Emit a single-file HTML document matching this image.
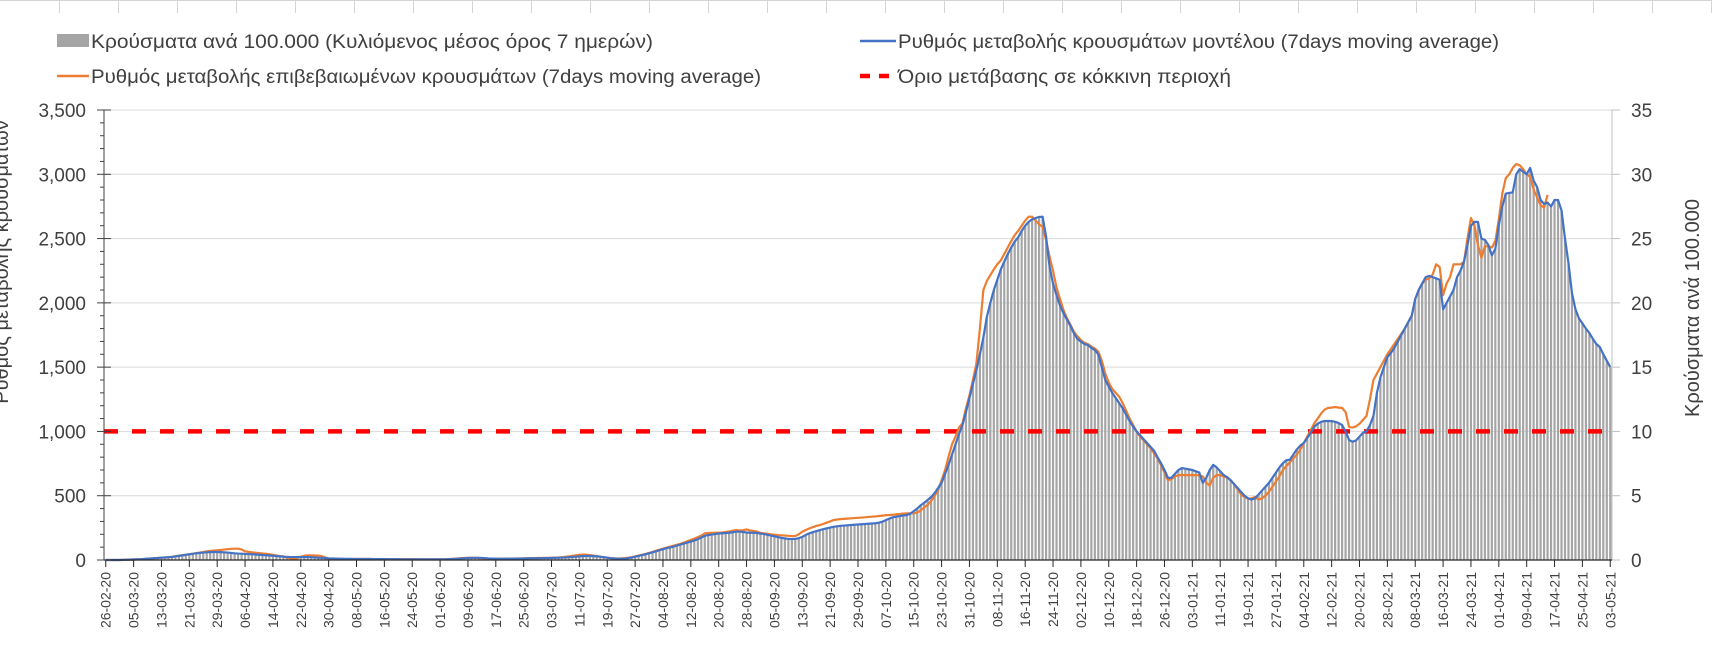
<!DOCTYPE html>
<html><head><meta charset="utf-8"><style>
html,body{margin:0;padding:0;background:#fff;}
svg{display:block;font-family:"Liberation Sans","DejaVu Sans",sans-serif;}
</style></head><body>
<svg id="chart" width="1712" height="661" viewBox="0 0 1712 661" xmlns="http://www.w3.org/2000/svg">
<g id="top-lines"></g>
<g id="legend">
  <rect x="57" y="34" width="32" height="13" fill="#a5a5a5"/>
  <text x="91" y="48" font-size="19" fill="#404040" textLength="562" lengthAdjust="spacingAndGlyphs">Κρούσματα ανά 100.000 (Κυλιόμενος μέσος όρος 7 ημερών)</text>
  <line x1="57" y1="76" x2="89" y2="76" stroke="#ed7d31" stroke-width="2.5"/>
  <text x="91" y="83" font-size="19" fill="#404040" textLength="670" lengthAdjust="spacingAndGlyphs">Ρυθμός μεταβολής επιβεβαιωμένων κρουσμάτων (7days moving average)</text>
  <line x1="860" y1="41" x2="896" y2="41" stroke="#4472c4" stroke-width="2.5"/>
  <text x="898" y="48" font-size="19" fill="#404040" textLength="601" lengthAdjust="spacingAndGlyphs">Ρυθμός μεταβολής κρουσμάτων μοντέλου (7days moving average)</text>
  <line x1="860" y1="76" x2="898" y2="76" stroke="#ff0000" stroke-width="4.5" stroke-dasharray="10 9"/>
  <text x="898" y="83" font-size="19" fill="#404040" textLength="333" lengthAdjust="spacingAndGlyphs">Όριο μετάβασης σε κόκκινη περιοχή</text>
</g>
<g id="grid"></g>
<g id="bars"></g>
<line id="thr" stroke="#ff0000" stroke-width="4.5" stroke-dasharray="14 14"/>
<path id="orangeLine" fill="none" stroke="#ed7d31" stroke-width="2.2" stroke-linejoin="round"/>
<path id="blueLine" fill="none" stroke="#4472c4" stroke-width="2.2" stroke-linejoin="round"/>
<g id="axes"></g>
<text transform="translate(8,262) rotate(-90)" text-anchor="middle" font-size="20" fill="#404040">Ρυθμός μεταβολής κρουσμάτων</text>
<text transform="translate(1699,308) rotate(-90)" text-anchor="middle" font-size="20" fill="#404040">Κρούσματα ανά 100.000</text>
</svg>
<script>
const modelRate = [
0,0,0,0,0,1,2,3,4,5,
6,8,10,12,14,16,18,20,22,24,
28,32,36,40,44,48,52,55,58,60,
61,62,62,61,60,58,55,52,50,49,
47,46,45,43,41,39,37,35,33,31,
28,26,24,23,23,23,23,23,23,22,
20,18,17,15,13,12,11,10,10,9,
9,8,8,8,8,8,8,7,7,7,
7,6,6,6,6,5,5,5,5,5,
5,5,5,5,5,5,5,5,6,7,
8,10,12,14,15,16,17,17,16,14,
12,11,10,10,10,10,10,10,11,11,
12,12,13,13,14,14,15,15,16,17,
18,19,20,22,24,26,28,30,31,31,
30,28,26,22,18,14,12,10,10,11,
14,19,26,32,38,44,52,60,68,76,
84,92,98,104,112,120,128,136,143,152,
162,175,188,194,198,202,206,208,210,212,
216,220,220,218,214,212,212,210,206,202,
196,190,184,178,172,168,164,163,164,170,
180,195,207,216,224,232,240,246,252,258,
262,266,268,270,272,274,276,278,280,282,
284,286,290,298,310,322,332,337,342,346,
350,360,380,400,425,445,467,490,520,560,
600,670,740,820,900,980,1050,1150,1260,1370,
1478,1600,1730,1892,2000,2100,2180,2260,2320,2380,
2430,2477,2510,2560,2600,2630,2650,2660,2668,2670,
2516,2282,2150,2060,1980,1920,1870,1820,1763,1720,
1700,1680,1672,1650,1633,1600,1500,1400,1350,1300,
1260,1220,1180,1130,1080,1037,1000,970,940,910,
880,850,800,753,700,638,640,670,700,715,
710,705,700,690,680,600,640,700,740,720,
690,660,645,620,590,560,530,500,480,470,
480,510,540,570,600,640,680,720,753,776,
780,820,860,890,910,950,990,1037,1060,1075,
1081,1081,1080,1075,1065,1050,1000,933,920,930,
960,990,1000,1050,1120,1300,1420,1500,1578,1610,
1650,1700,1750,1800,1850,1900,2030,2100,2150,2200,
2210,2200,2190,2180,1950,2000,2050,2100,2200,2250,
2320,2450,2600,2630,2630,2500,2490,2450,2370,2420,
2600,2750,2850,2855,2860,3000,3040,3020,3000,3050,
2950,2900,2800,2770,2780,2750,2800,2800,2720,2500,
2310,2076,1950,1880,1840,1800,1765,1720,1680,1656,
1600,1550,1500];
const confirmedRate = [
0,0,0,0,0,1,2,3,4,5,
6,8,10,12,14,16,18,20,22,25,
29,33,37,41,45,49,54,58,62,67,
70,73,75,78,81,84,87,88,88,82,
67,63,60,57,54,51,49,45,40,35,
30,28,20,12,8,15,25,33,36,36,
35,34,30,20,12,8,8,7,7,7,
8,8,8,8,8,8,8,7,7,7,
7,6,6,6,6,6,6,6,6,6,
5,5,5,5,5,5,5,5,6,8,
10,12,14,16,18,18,17,15,13,12,
11,10,10,10,10,10,11,11,12,12,
13,14,15,15,16,16,17,17,18,19,
20,22,25,28,32,36,40,42,41,38,
34,30,26,22,18,15,13,12,13,15,
18,22,28,34,40,47,55,63,72,80,
88,96,104,111,118,126,136,146,156,166,
178,190,207,210,211,212,212,214,218,222,
228,233,230,232,238,230,226,222,210,207,
204,200,197,194,192,190,188,186,187,200,
220,233,245,255,265,272,280,290,300,311,
315,318,320,322,324,326,328,330,332,335,
337,339,342,345,348,350,352,355,358,361,
363,363,363,370,385,410,428,460,500,544,
620,700,803,900,960,1030,1063,1180,1280,1400,
1530,1800,2100,2170,2216,2260,2300,2330,2380,2430,
2480,2527,2560,2600,2640,2670,2670,2640,2610,2592,
2490,2360,2250,2120,2030,1945,1880,1830,1775,1740,
1710,1690,1680,1660,1645,1620,1550,1450,1380,1330,
1300,1270,1220,1160,1100,1050,1000,960,930,900,
870,830,790,740,680,620,630,650,660,660,
660,660,660,660,658,650,600,580,640,660,
660,650,640,620,590,550,510,490,477,480,
490,470,480,500,530,570,610,650,700,730,
760,790,820,860,910,960,1010,1063,1100,1140,
1170,1183,1185,1190,1185,1183,1150,1035,1030,1040,
1060,1090,1120,1250,1400,1450,1500,1550,1600,1640,
1680,1720,1760,1800,1850,1900,2030,2100,2150,2180,
2190,2220,2300,2280,2060,2150,2200,2300,2300,2300,
2320,2500,2660,2600,2450,2350,2440,2440,2430,2480,
2650,2850,2970,3000,3050,3080,3070,3040,3000,2980,
2880,2820,2760,2740,2840];
const casesPer100k = [
0,0,0,0,0,0,0,0,0,0.1,
0.1,0.1,0.1,0.1,0.1,0.2,0.2,0.2,0.2,0.2,
0.3,0.3,0.4,0.4,0.4,0.5,0.5,0.6,0.6,0.6,
0.6,0.6,0.6,0.6,0.6,0.6,0.6,0.5,0.5,0.5,
0.5,0.5,0.5,0.4,0.4,0.4,0.4,0.4,0.3,0.3,
0.3,0.3,0.2,0.2,0.2,0.2,0.2,0.2,0.2,0.2,
0.2,0.2,0.2,0.2,0.1,0.1,0.1,0.1,0.1,0.1,
0.1,0.1,0.1,0.1,0.1,0.1,0.1,0.1,0.1,0.1,
0.1,0.1,0.1,0.1,0.1,0.1,0.1,0.1,0.1,0.1,
0.1,0.1,0.1,0.1,0.1,0.1,0.1,0.1,0.1,0.1,
0.1,0.1,0.1,0.1,0.2,0.2,0.2,0.2,0.2,0.1,
0.1,0.1,0.1,0.1,0.1,0.1,0.1,0.1,0.1,0.1,
0.1,0.1,0.1,0.1,0.1,0.1,0.2,0.2,0.2,0.2,
0.2,0.2,0.2,0.2,0.2,0.3,0.3,0.3,0.3,0.3,
0.3,0.3,0.3,0.2,0.2,0.1,0.1,0.1,0.1,0.1,
0.1,0.2,0.3,0.3,0.4,0.4,0.5,0.6,0.7,0.8,
0.8,0.9,1.0,1.0,1.1,1.2,1.3,1.4,1.4,1.5,
1.6,1.8,1.9,1.9,2.0,2.0,2.1,2.1,2.1,2.1,
2.2,2.2,2.2,2.2,2.1,2.1,2.1,2.1,2.1,2.0,
2.0,1.9,1.8,1.8,1.7,1.7,1.6,1.6,1.6,1.7,
1.8,2.0,2.1,2.2,2.2,2.3,2.4,2.5,2.5,2.6,
2.6,2.7,2.7,2.7,2.7,2.7,2.8,2.8,2.8,2.8,
2.8,2.9,2.9,3.0,3.1,3.2,3.3,3.4,3.4,3.5,
3.5,3.6,3.8,4.0,4.3,4.5,4.7,4.9,5.2,5.6,
6.0,6.7,7.4,8.2,9.0,9.8,10.5,11.5,12.6,13.7,
14.8,16.0,17.3,18.9,20.0,21.0,21.8,22.6,23.2,23.8,
24.3,24.8,25.1,25.6,26.0,26.3,26.5,26.6,26.7,26.7,
25.2,22.8,21.5,20.6,19.8,19.2,18.7,18.2,17.6,17.2,
17.0,16.8,16.7,16.5,16.3,16.0,15.0,14.0,13.5,13.0,
12.6,12.2,11.8,11.3,10.8,10.4,10.0,9.7,9.4,9.1,
8.8,8.5,8.0,7.5,7.0,6.4,6.4,6.7,7.0,7.2,
7.1,7.1,7.0,6.9,6.8,6.0,6.4,7.0,7.4,7.2,
6.9,6.6,6.5,6.2,5.9,5.6,5.3,5.0,4.8,4.7,
4.8,5.1,5.4,5.7,6.0,6.4,6.8,7.2,7.5,7.8,
7.8,8.2,8.6,8.9,9.1,9.5,9.9,10.4,10.6,10.8,
10.8,10.8,10.8,10.8,10.7,10.5,10.0,9.3,9.2,9.3,
9.6,9.9,10.0,10.5,11.2,13.0,14.2,15.0,15.8,16.1,
16.5,17.0,17.5,18.0,18.5,19.0,20.3,21.0,21.5,22.0,
22.1,22.0,21.9,21.8,19.5,20.0,20.5,21.0,22.0,22.5,
23.2,24.5,26.0,26.3,26.3,25.0,24.9,24.5,23.7,24.2,
26.0,27.5,28.5,28.6,28.6,30.0,30.4,30.2,30.0,30.5,
29.5,29.0,28.0,27.7,27.8,27.5,28.0,28.0,27.2,25.0,
23.1,20.8,19.5,18.8,18.4,18.0,17.7,17.2,16.8,16.6,
16.0,15.5,15.0];
const thresholdValue = 1000;
const leftTicks = [0,500,1000,1500,2000,2500,3000,3500];
const leftTickLabels = ["0","500","1,000","1,500","2,000","2,500","3,000","3,500"];
const rightTicks = [0,5,10,15,20,25,30,35];
const dateLabels = ["26-02-20","05-03-20","13-03-20","21-03-20","29-03-20","06-04-20","14-04-20","22-04-20","30-04-20","08-05-20","16-05-20","24-05-20","01-06-20","09-06-20","17-06-20","25-06-20","03-07-20","11-07-20","19-07-20","27-07-20","04-08-20","12-08-20","20-08-20","28-08-20","05-09-20","13-09-20","21-09-20","29-09-20","07-10-20","15-10-20","23-10-20","31-10-20","08-11-20","16-11-20","24-11-20","02-12-20","10-12-20","18-12-20","26-12-20","03-01-21","11-01-21","19-01-21","27-01-21","04-02-21","12-02-21","20-02-21","28-02-21","08-03-21","16-03-21","24-03-21","01-04-21","09-04-21","17-04-21","25-04-21","03-05-21"];
const labelEvery = 8;

const NS = "http://www.w3.org/2000/svg";
const X0 = 104, X1 = 1612, Y0 = 560, YT = 110;
const N = casesPer100k.length;
const BW = (X1 - X0) / N;
function xPos(i){ return X0 + BW * (i + 0.5); }
function yLeft(v){ return Y0 - v / 3500 * (Y0 - YT); }
function yRight(v){ return Y0 - v / 35 * (Y0 - YT); }
function mk(tag, attrs, parent){
  const e = document.createElementNS(NS, tag);
  for (const k in attrs) e.setAttribute(k, attrs[k]);
  parent.appendChild(e);
  return e;
}
const topG = document.getElementById('top-lines');
mk('line',{x1:0,y1:0.5,x2:1712,y2:0.5,stroke:'#d4d4d4','stroke-width':1},topG);
for (let x = 59.5; x < 1712; x += 59) {
  const l = mk('line',{x1:x,y1:0,x2:x,y2:13,stroke:'#d4d4d4','stroke-width':1},topG);
  
  
}
const grid = document.getElementById('grid');
leftTicks.forEach(v => {
  if (v === 0) return;
  const l = mk('line',{x1:X0,x2:X1,y1:yLeft(v),y2:yLeft(v),stroke:'#d9d9d9','stroke-width':1},grid);
  
  
});
const barsG = document.getElementById('bars');
casesPer100k.forEach((v,i) => {
  const y = yRight(v);
  const r = mk('rect',{x:(xPos(i)-1.1).toFixed(2),y:y.toFixed(2),width:2.2,height:(Y0-y).toFixed(2),fill:'#a5a5a5'},barsG);
  
  
});
const thr = document.getElementById('thr');
thr.setAttribute('x1', X0); thr.setAttribute('x2', xPos(N-1));
thr.setAttribute('y1', yLeft(thresholdValue)); thr.setAttribute('y2', yLeft(thresholdValue));
function linePath(arr){ return arr.map((v,i)=>(i?'L':'M')+xPos(i).toFixed(2)+' '+yLeft(v).toFixed(2)).join(' '); }
document.getElementById('blueLine').setAttribute('d', linePath(modelRate));
document.getElementById('orangeLine').setAttribute('d', linePath(confirmedRate));

const axesG = document.getElementById('axes');
mk('line',{x1:X0,y1:YT,x2:X0,y2:Y0,stroke:'#404040','stroke-width':1},axesG);
mk('line',{x1:X1,y1:YT,x2:X1,y2:Y0,stroke:'#bfbfbf','stroke-width':1},axesG);
mk('line',{x1:X0,y1:Y0,x2:X1,y2:Y0,stroke:'#262626','stroke-width':1.2},axesG);
for (let v = 0; v <= 3500; v += 100) {
  const major = v % 500 === 0;
  mk('line',{x1:major?97:100,x2:major?111:X0,y1:yLeft(v),y2:yLeft(v),stroke:'#404040','stroke-width':1},axesG);
}
leftTicks.forEach((v,k) => {
  const t = mk('text',{x:86,y:yLeft(v)+7,'text-anchor':'end','font-size':19,fill:'#404040'},axesG);
  t.textContent = leftTickLabels[k];
  
  
});
rightTicks.forEach(v => {
  mk('line',{x1:X1,x2:X1+8,y1:yRight(v),y2:yRight(v),stroke:'#bfbfbf','stroke-width':1},axesG);
  const t = mk('text',{x:1631,y:yRight(v)+7,'font-size':19,fill:'#404040'},axesG);
  t.textContent = String(v);
  
  
});
dateLabels.forEach((lab,k) => {
  const x = xPos(k*labelEvery);
  mk('line',{x1:x,x2:x,y1:Y0,y2:Y0+7,stroke:'#262626','stroke-width':1},axesG);
  const t = mk('text',{transform:`translate(${(x+5).toFixed(2)},572) rotate(-90)`,'text-anchor':'end','font-size':14,fill:'#404040'},axesG);
  t.textContent = lab;
  
  
});
</script>
</body></html>
